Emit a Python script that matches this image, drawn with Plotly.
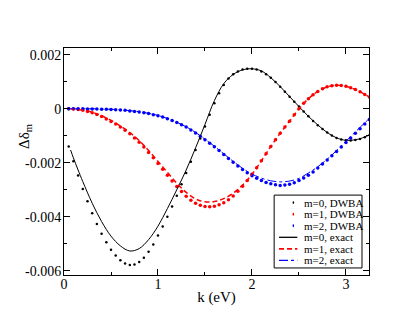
import plotly.graph_objects as go

# exact curves, k in eV, values in units of 1e-3
k_exact = [0.07, 0.1, 0.15, 0.2, 0.3, 0.4, 0.5, 0.6, 0.7, 0.8, 0.9, 1.0, 1.1, 1.2, 1.3, 1.4,
           1.5, 1.6, 1.7, 1.8, 1.9, 2.0, 2.1, 2.2, 2.3, 2.4, 2.5, 2.6, 2.7, 2.8, 2.9, 3.0,
           3.1, 3.2, 3.25]
m0_exact = [-1.53, -1.82, -2.27, -2.70, -3.50, -4.18, -4.72, -5.08, -5.27, -5.18, -4.85, -4.35,
            -3.70, -3.00, -2.27, -1.45, -0.58, 0.30, 0.93, 1.27, 1.44, 1.48, 1.40, 1.15, 0.82,
            0.45, 0.08, -0.28, -0.60, -0.88, -1.08, -1.17, -1.15, -1.05, -0.97]
m1_exact = [0.0, -0.01, -0.03, -0.05, -0.13, -0.26, -0.43, -0.64, -0.88, -1.18, -1.55, -1.95,
            -2.36, -2.76, -3.10, -3.34, -3.45, -3.44, -3.33, -3.13, -2.83, -2.43, -1.93, -1.40,
            -0.91, -0.46, 0.0, 0.37, 0.64, 0.81, 0.87, 0.83, 0.71, 0.53, 0.43]
m2_exact = [0.0, 0.0, 0.0, 0.0, 0.0, -0.01, -0.02, -0.04, -0.07, -0.11, -0.17, -0.25, -0.36,
            -0.50, -0.67, -0.88, -1.13, -1.39, -1.67, -1.95, -2.21, -2.42, -2.57, -2.67, -2.71,
            -2.68, -2.58, -2.38, -2.15, -1.87, -1.55, -1.20, -0.86, -0.52, -0.36]

# DWBA points
k_dwba = [0.05, 0.10, 0.15, 0.20, 0.25, 0.30, 0.35, 0.40, 0.45, 0.50, 0.55, 0.60, 0.65, 0.70,
          0.75, 0.80, 0.85, 0.90, 0.95, 1.00, 1.05, 1.10, 1.15, 1.20, 1.25, 1.30, 1.35, 1.40,
          1.45, 1.50, 1.55, 1.60, 1.65, 1.70, 1.75, 1.80, 1.85, 1.90, 1.95, 2.00, 2.05, 2.10,
          2.15, 2.20, 2.25, 2.30, 2.35, 2.40, 2.45, 2.50, 2.55, 2.60, 2.65, 2.70, 2.75, 2.80,
          2.85, 2.90, 2.95, 3.00, 3.05, 3.10, 3.15, 3.20, 3.25]
m0_dwba = [-1.40, -1.95, -2.47, -2.97, -3.43, -3.87, -4.27, -4.63, -4.95, -5.22, -5.44, -5.61,
           -5.73, -5.79, -5.77, -5.68, -5.52, -5.30, -5.03, -4.70, -4.36, -4.00, -3.62, -3.22,
           -2.80, -2.38, -1.96, -1.53, -1.10, -0.66, -0.22, 0.20, 0.57, 0.88, 1.12, 1.28, 1.38,
           1.45, 1.48, 1.48, 1.45, 1.38, 1.28, 1.15, 0.99, 0.81, 0.63, 0.44, 0.26, 0.08, -0.10,
           -0.28, -0.45, -0.61, -0.75, -0.88, -0.99, -1.08, -1.14, -1.17, -1.18, -1.16, -1.12,
           -1.06, -0.98]
m1_dwba = [0.0, -0.01, -0.03, -0.06, -0.10, -0.15, -0.21, -0.29, -0.38, -0.47, -0.57, -0.68,
           -0.80, -0.93, -1.08, -1.24, -1.42, -1.62, -1.82, -2.03, -2.24, -2.46, -2.68, -2.88,
           -3.07, -3.24, -3.39, -3.50, -3.58, -3.62, -3.63, -3.61, -3.56, -3.48, -3.37, -3.23,
           -3.06, -2.87, -2.66, -2.43, -2.19, -1.93, -1.67, -1.40, -1.15, -0.91, -0.68, -0.46,
           -0.22, 0.0, 0.20, 0.37, 0.52, 0.64, 0.74, 0.81, 0.85, 0.87, 0.86, 0.83, 0.78, 0.71,
           0.63, 0.53, 0.43]
m2_dwba = [0.0, 0.0, 0.0, 0.0, -0.01, -0.01, -0.01, -0.02, -0.02, -0.03, -0.04, -0.05, -0.06,
           -0.08, -0.10, -0.12, -0.15, -0.18, -0.22, -0.26, -0.31, -0.37, -0.44, -0.51, -0.59,
           -0.68, -0.79, -0.90, -1.02, -1.15, -1.28, -1.41, -1.55, -1.70, -1.84, -1.98, -2.12,
           -2.25, -2.37, -2.48, -2.58, -2.66, -2.73, -2.78, -2.82, -2.84, -2.83, -2.80, -2.74,
           -2.66, -2.57, -2.46, -2.34, -2.20, -2.05, -1.90, -1.74, -1.58, -1.42, -1.25, -1.08,
           -0.91, -0.74, -0.57, -0.40]

y_ticks = [0.002, 0.0, -0.002, -0.004, -0.006]
y_labels = ["0.002", "0", "-0.002", "-0.004", "-0.006"]
x_ticks = [0, 1, 2, 3]

FONT = "Liberation Serif, Times New Roman, serif"


def sc(v):
    return [a * 1e-3 for a in v]


dwba = [("m=0, DWBA", m0_dwba, "black", 2.5),
        ("m=1, DWBA", m1_dwba, "red", 3.5),
        ("m=2, DWBA", m2_dwba, "blue", 3.5)]
exact = [("m=0, exact", m0_exact, "black", "solid", 1),
         ("m=1, exact", m1_exact, "red", "5px,3px", 1.5),
         ("m=2, exact", m2_exact, "blue", "dashdot", 1)]

fig = go.Figure()

for name, ys, col, ms in dwba:
    fig.add_trace(go.Scatter(x=k_dwba, y=sc(ys), mode="markers", name=name,
                             marker=dict(color=col, size=ms), showlegend=False))

for name, ys, col, dash, w in exact:
    fig.add_trace(go.Scatter(x=k_exact, y=sc(ys), mode="lines", name=name,
                             line=dict(color=col, dash=dash, width=w, shape="spline"),
                             showlegend=False))

# compact xmgrace-like legend box (bottom right)
lx0, lx1, ly0, ly1 = 0.689, 0.977, 0.031, 0.352
fig.add_shape(type="rect", xref="paper", yref="paper", x0=lx0, x1=lx1, y0=ly0, y1=ly1,
              line=dict(color="black", width=1), fillcolor="white", layer="above")
row_h = (ly1 - ly0) / 6.3
entries = [(n, c, None, None) for n, _, c, _ in dwba] + [(n, c, d, w) for n, _, c, d, w in exact]
for i, (name, col, dash, w) in enumerate(entries):
    yc = ly1 - row_h * (i + 0.65)
    if dash is None:
        fig.add_shape(type="circle", xref="paper", yref="paper", layer="above",
                      x0=0.7495, x1=0.7545, y0=yc - 0.0065, y1=yc + 0.0065,
                      fillcolor=col, line=dict(width=0))
    else:
        fig.add_shape(type="line", xref="paper", yref="paper", layer="above",
                      x0=0.705, x1=0.765, y0=yc, y1=yc,
                      line=dict(color=col, dash=dash, width=w + 0.3))
    fig.add_annotation(text=name, xref="paper", yref="paper", x=0.782, y=yc,
                       xanchor="left", yanchor="middle", showarrow=False, borderpad=0,
                       font=dict(size=11, family=FONT, color="black"))

# y axis label
fig.add_annotation(text="Δδ<sub>m</sub>", xref="paper", yref="paper", x=-0.13, y=0.61,
                   textangle=-90, showarrow=False, xanchor="center", yanchor="middle",
                   font=dict(size=15, family=FONT, color="black"))

axis_style = dict(showline=True, linecolor="black", linewidth=1, mirror="allticks",
                  ticks="inside", ticklen=6, tickcolor="black", showgrid=False,
                  zeroline=False, tickfont=dict(size=14), automargin=False)

fig.update_xaxes(range=[0, 3.245], tickvals=x_ticks, ticklabelstandoff=-4,
                 minor=dict(dtick=0.5, ticks="inside", ticklen=3, tickcolor="black"),
                 title=dict(text="k (eV)", font=dict(size=15), standoff=0), **axis_style)
fig.update_yaxes(range=[-0.00616, 0.00225], tickvals=y_ticks, ticktext=y_labels,
                 ticklabelstandoff=-1,
                 minor=dict(dtick=0.001, ticks="inside", ticklen=3, tickcolor="black"),
                 **axis_style)

fig.update_layout(
    width=409, height=316,
    margin=dict(l=56, r=48, t=40, b=49),
    paper_bgcolor="white", plot_bgcolor="white",
    font=dict(family=FONT, color="black"),
    showlegend=False,
)

fig.write_html("out.html")
